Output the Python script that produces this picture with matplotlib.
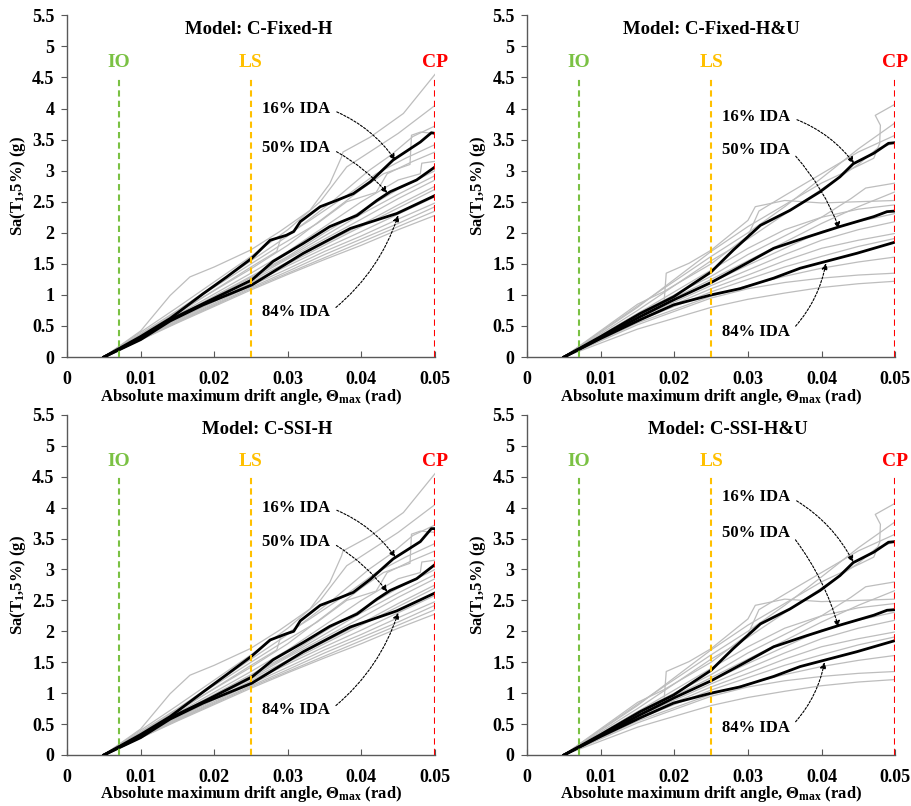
import matplotlib
matplotlib.use('Agg')
from matplotlib import pyplot as plt

plt.rcParams['font.family'] = ['Liberation Serif', 'DejaVu Serif']
plt.rcParams['font.weight'] = 'bold'
plt.rcParams['mathtext.default'] = 'regular'

# model titles
titles = ['Model: C-Fixed-H', 'Model: C-Fixed-H&U', 'Model: C-SSI-H', 'Model: C-SSI-H&U']

# limit states: drift angle, label, colour
ls_drift = [0.007, 0.025, 0.05]
ls_names = ['IO', 'LS', 'CP']
ls_colors = ['#7AC143', '#FFC000', '#FF0000']

# individual IDA curves, H models (x = drift angle, y = Sa)
gray_H = [
    [(0.005, 0), (0.010, 0.42), (0.014, 0.99), (0.0167, 1.29), (0.020, 1.45), (0.0249, 1.72), (0.0289, 2.02),
     (0.033, 2.36), (0.0357, 2.79), (0.0373, 3.22), (0.0375, 3.3), (0.0412, 3.54), (0.0457, 3.92), (0.050, 4.55)],
    [(0.005, 0), (0.015, 0.8), (0.025, 1.62), (0.030, 2.05), (0.0344, 2.5), (0.038, 3.06), (0.045, 3.6), (0.050, 4.05)],
    [(0.005, 0), (0.015, 0.75), (0.025, 1.55), (0.030, 1.95), (0.036, 2.5), (0.041, 3.0), (0.044, 3.25), (0.047, 3.55), (0.050, 3.72)],
    [(0.005, 0), (0.015, 0.72), (0.025, 1.42), (0.030, 1.8), (0.035, 2.25), (0.040, 2.7), (0.043, 2.95), (0.0466, 3.1),
     (0.0468, 3.57), (0.048, 3.62), (0.050, 3.6)],
    [(0.005, 0), (0.015, 0.7), (0.025, 1.45), (0.0285, 1.7), (0.029, 1.9), (0.033, 2.2), (0.038, 2.6), (0.042, 2.95), (0.046, 3.2), (0.050, 3.42)],
    [(0.005, 0), (0.015, 0.68), (0.025, 1.35), (0.030, 1.7), (0.035, 2.1), (0.040, 2.5), (0.045, 2.85), (0.048, 2.95), (0.0482, 3.12), (0.050, 3.15)],
    [(0.005, 0), (0.015, 0.66), (0.025, 1.3), (0.030, 1.62), (0.035, 2.0), (0.040, 2.35), (0.045, 2.7), (0.050, 3.0)],
    [(0.005, 0), (0.015, 0.65), (0.025, 1.28), (0.030, 1.6), (0.035, 1.95), (0.040, 2.3), (0.045, 2.62), (0.050, 2.92)],
    [(0.005, 0), (0.015, 0.63), (0.025, 1.25), (0.030, 1.58), (0.035, 1.9), (0.040, 2.22), (0.045, 2.55), (0.050, 2.85)],
    [(0.005, 0), (0.015, 0.62), (0.025, 1.23), (0.030, 1.53), (0.035, 1.83), (0.040, 2.13), (0.045, 2.45), (0.050, 2.75)],
    [(0.005, 0), (0.015, 0.6), (0.025, 1.2), (0.030, 1.5), (0.035, 1.8), (0.040, 2.1), (0.045, 2.4), (0.050, 2.7)],
    [(0.005, 0), (0.015, 0.6), (0.025, 1.18), (0.030, 1.47), (0.035, 1.75), (0.040, 2.02), (0.045, 2.3), (0.050, 2.58)],
    [(0.005, 0), (0.015, 0.58), (0.025, 1.15), (0.030, 1.42), (0.035, 1.7), (0.040, 1.95), (0.045, 2.22), (0.050, 2.48)],
    [(0.005, 0), (0.015, 0.57), (0.025, 1.12), (0.030, 1.38), (0.035, 1.65), (0.040, 1.9), (0.045, 2.15), (0.050, 2.42)],
    [(0.005, 0), (0.015, 0.56), (0.025, 1.1), (0.030, 1.35), (0.035, 1.6), (0.040, 1.85), (0.045, 2.1), (0.050, 2.35)],
    [(0.005, 0), (0.015, 0.55), (0.025, 1.08), (0.030, 1.33), (0.035, 1.57), (0.040, 1.8), (0.045, 2.05), (0.050, 2.28)],
    [(0.005, 0), (0.012, 0.5), (0.019, 1.05), (0.025, 1.5), (0.029, 1.8), (0.034, 2.15), (0.038, 2.5), (0.042, 2.65),
     (0.0435, 2.95), (0.047, 3.15), (0.050, 3.3)],
]

# individual IDA curves, H&U models
gray_HU = [
    [(0.005, 0), (0.015, 0.8), (0.025, 1.7), (0.030, 2.1), (0.035, 2.45), (0.040, 2.8), (0.0452, 3.09), (0.0471, 3.2),
     (0.0479, 3.44), (0.048, 3.73), (0.0473, 3.89), (0.0497, 4.05), (0.050, 4.07)],
    [(0.005, 0), (0.015, 0.82), (0.025, 1.62), (0.030, 2.0), (0.035, 2.42), (0.040, 2.88), (0.045, 3.35), (0.050, 3.77)],
    [(0.005, 0), (0.015, 0.85), (0.0185, 1.05), (0.025, 1.5), (0.030, 1.95), (0.0315, 2.35), (0.035, 2.6), (0.040, 2.95), (0.045, 3.3), (0.050, 3.57)],
    [(0.005, 0), (0.015, 0.75), (0.025, 1.55), (0.030, 1.9), (0.035, 2.3), (0.040, 2.7), (0.045, 3.1), (0.0475, 3.35), (0.050, 3.45)],
    [(0.005, 0), (0.0186, 0.87), (0.0189, 1.35), (0.022, 1.51), (0.025, 1.72), (0.030, 2.2), (0.031, 2.42), (0.035, 2.52),
     (0.040, 2.48), (0.045, 2.5), (0.050, 2.52)],
    [(0.005, 0), (0.015, 0.7), (0.025, 1.3), (0.030, 1.65), (0.035, 1.95), (0.040, 2.25), (0.044, 2.55), (0.046, 2.72), (0.050, 2.8)],
    [(0.005, 0), (0.015, 0.66), (0.025, 1.25), (0.030, 1.55), (0.035, 1.85), (0.040, 2.15), (0.045, 2.42), (0.050, 2.66)],
    [(0.005, 0), (0.015, 0.7), (0.025, 1.4), (0.030, 1.75), (0.035, 2.05), (0.040, 2.25), (0.045, 2.38), (0.050, 2.45)],
    [(0.005, 0), (0.015, 0.64), (0.025, 1.2), (0.030, 1.48), (0.035, 1.75), (0.040, 2.02), (0.045, 2.18), (0.050, 2.31)],
    [(0.005, 0), (0.015, 0.62), (0.025, 1.15), (0.030, 1.4), (0.035, 1.65), (0.040, 1.88), (0.045, 2.05), (0.050, 2.18)],
    [(0.005, 0), (0.015, 0.6), (0.025, 1.1), (0.030, 1.32), (0.035, 1.55), (0.040, 1.75), (0.045, 1.88), (0.050, 1.99)],
    [(0.005, 0), (0.015, 0.58), (0.025, 1.05), (0.030, 1.25), (0.035, 1.45), (0.040, 1.62), (0.045, 1.78), (0.050, 1.91)],
    [(0.005, 0), (0.015, 0.55), (0.025, 0.98), (0.030, 1.15), (0.035, 1.3), (0.040, 1.43), (0.045, 1.53), (0.050, 1.61)],
    [(0.005, 0), (0.015, 0.52), (0.025, 0.95), (0.030, 1.1), (0.035, 1.2), (0.040, 1.27), (0.045, 1.32), (0.050, 1.35)],
    [(0.005, 0), (0.015, 0.45), (0.025, 0.8), (0.030, 0.93), (0.035, 1.03), (0.040, 1.12), (0.045, 1.18), (0.050, 1.22)],
]

# percentile IDA curves (16%, 50%, 84%)
p16_fixed_H = [(0.005, 0), (0.010, 0.33), (0.014, 0.62), (0.0185, 1.02), (0.0217, 1.29), (0.0251, 1.59), (0.0276, 1.88),
               (0.0298, 1.96), (0.0308, 2.02), (0.0317, 2.18), (0.0344, 2.42), (0.0366, 2.52), (0.0389, 2.63),
               (0.0412, 2.82), (0.0443, 3.17), (0.048, 3.46), (0.0495, 3.61), (0.050, 3.60)]
p50_fixed_H = [(0.005, 0), (0.010, 0.3), (0.014, 0.6), (0.0185, 0.86), (0.0251, 1.24), (0.028, 1.54), (0.0321, 1.83),
               (0.0357, 2.1), (0.0394, 2.28), (0.0421, 2.52), (0.0439, 2.66), (0.0475, 2.85), (0.050, 3.06)]
p84_fixed_H = [(0.005, 0), (0.010, 0.28), (0.014, 0.58), (0.0185, 0.84), (0.0251, 1.16), (0.0321, 1.67), (0.0385, 2.07),
               (0.0448, 2.31), (0.050, 2.60)]

p16_fixed_HU = [(0.005, 0), (0.010, 0.33), (0.01535, 0.70), (0.0199, 0.97), (0.025, 1.37), (0.028, 1.72), (0.0317, 2.12),
                (0.0357, 2.36), (0.0398, 2.66), (0.0425, 2.9), (0.0443, 3.11), (0.0471, 3.28), (0.0491, 3.44), (0.050, 3.45)]
p50_fixed_HU = [(0.005, 0), (0.010, 0.31), (0.01535, 0.65), (0.0199, 0.92), (0.025, 1.2), (0.0289, 1.45), (0.0335, 1.75),
                (0.038, 1.93), (0.0425, 2.1), (0.0471, 2.26), (0.0489, 2.34), (0.050, 2.35)]
p84_fixed_HU = [(0.005, 0), (0.010, 0.3), (0.01535, 0.6), (0.0199, 0.84), (0.025, 1.0), (0.0289, 1.1), (0.0335, 1.27),
                (0.0371, 1.43), (0.0403, 1.53), (0.0448, 1.67), (0.050, 1.85)]

p16_ssi_H = [(0.005, 0), (0.010, 0.33), (0.014, 0.62), (0.0185, 1.02), (0.0217, 1.3), (0.0251, 1.6), (0.0276, 1.86),
             (0.0298, 1.96), (0.0308, 2.0), (0.0317, 2.17), (0.0344, 2.42), (0.0366, 2.52), (0.0389, 2.63),
             (0.0412, 2.84), (0.0443, 3.17), (0.048, 3.45), (0.0495, 3.66), (0.050, 3.66)]
p50_ssi_H = [(0.005, 0), (0.010, 0.3), (0.014, 0.6), (0.0185, 0.86), (0.0251, 1.26), (0.028, 1.54), (0.0321, 1.82),
             (0.0357, 2.08), (0.0394, 2.28), (0.0421, 2.52), (0.0439, 2.66), (0.0475, 2.85), (0.050, 3.08)]
p84_ssi_H = [(0.005, 0), (0.010, 0.28), (0.014, 0.58), (0.0185, 0.84), (0.0251, 1.16), (0.0321, 1.67), (0.0385, 2.07),
             (0.0448, 2.33), (0.050, 2.62)]

p16_ssi_HU = p16_fixed_HU
p50_ssi_HU = p50_fixed_HU
p84_ssi_HU = p84_fixed_HU

panels = [
    (titles[0], gray_H, [p16_fixed_H, p50_fixed_H, p84_fixed_H]),
    (titles[1], gray_HU, [p16_fixed_HU, p50_fixed_HU, p84_fixed_HU]),
    (titles[2], gray_H, [p16_ssi_H, p50_ssi_H, p84_ssi_H]),
    (titles[3], gray_HU, [p16_ssi_HU, p50_ssi_HU, p84_ssi_HU]),
]

# layout of the four axes in figure fractions
axes_pos = [
    [0.0735, 0.557, 0.4035, 0.424],
    [0.578, 0.557, 0.4035, 0.424],
    [0.0735, 0.0633, 0.4035, 0.422],
    [0.578, 0.0633, 0.4035, 0.422],
]
title_x = [0.026, 0.0251, 0.0272, 0.0273]

# annotation: label, text y, arrow target (x, y) per panel
ann_labels = ['16% IDA', '50% IDA', '84% IDA']
ann_text_y = [[3.99, 3.36, 0.72], [3.86, 3.33, 0.40], [4.0, 3.45, 0.72], [4.17, 3.59, 0.44]]
ann_target = [
    [(0.0446, 3.17), (0.0435, 2.64), (0.045, 2.28)],
    [(0.0444, 3.12), (0.0424, 2.07), (0.0406, 1.51)],
    [(0.0446, 3.2), (0.0435, 2.64), (0.045, 2.3)],
    [(0.0443, 3.12), (0.0423, 2.07), (0.0404, 1.50)],
]
ann_rad = [-0.15, -0.1, 0.15]

fig = plt.figure(figsize=(9.12, 8.06), dpi=100)

for i, (title, grays, pcts) in enumerate(panels):
    ax = fig.add_axes(axes_pos[i])
    for c in grays:
        ax.plot([p[0] for p in c], [p[1] for p in c], color='#BDBDBD', lw=0.9, zorder=2)
    for c in pcts:
        ax.plot([p[0] for p in c], [p[1] for p in c], color='black', lw=2.0, zorder=3)

    for d, n, col in zip(ls_drift, ls_names, ls_colors):
        ax.plot([d, d], [0, 4.53], color=col, lw=1.5, ls=(0, (3, 2)), zorder=4)
        ax.text(d, 4.74, n, color=col, fontsize=14, fontweight='bold', ha='center', va='center')

    ax.text(title_x[i], 5.27, title, fontsize=13.5, fontweight='bold', ha='center', va='center')

    for j in range(3):
        ax.annotate(ann_labels[j], xy=ann_target[i][j], xytext=(0.0265, ann_text_y[i][j]),
                    fontsize=12, fontweight='bold', ha='left', va='center',
                    arrowprops=dict(arrowstyle='-|>', color='black', lw=0.8, ls=(0, (2, 1.5)),
                                    relpos=(1, 0.5), shrinkA=3, shrinkB=0,
                                    mutation_scale=9,
                                    connectionstyle='arc3,rad=%s' % ann_rad[j]),
                    zorder=5)

    ax.set_xlim(0, 0.05)
    ax.set_ylim(0, 5.5)
    ax.set_xticks([0, 0.01, 0.02, 0.03, 0.04, 0.05])
    ax.set_xticklabels(['0', '0.01', '0.02', '0.03', '0.04', '0.05'])
    ax.set_yticks([0, 0.5, 1, 1.5, 2, 2.5, 3, 3.5, 4, 4.5, 5, 5.5])
    ax.set_yticklabels(['0', '0.5', '1', '1.5', '2', '2.5', '3', '3.5', '4', '4.5', '5', '5.5'])
    ax.tick_params(axis='x', direction='in', length=4, pad=10, labelsize=13, color='#595959')
    ax.tick_params(axis='y', direction='out', length=4, pad=5, labelsize=13, color='#595959')
    for lab in ax.get_xticklabels() + ax.get_yticklabels():
        lab.set_fontweight('bold')
    for s in ['top', 'right']:
        ax.spines[s].set_visible(False)
    for s in ['left', 'bottom']:
        ax.spines[s].set_color('#595959')
        ax.spines[s].set_linewidth(1.0)
    ax.set_xlabel('Absolute maximum drift angle, \u0398$_{max}$ (rad)', fontsize=12, fontweight='bold', labelpad=-1)
    ax.set_ylabel('Sa(T$_1$,5%) (g)', fontsize=12, fontweight='bold', labelpad=3)

fig.savefig('out.png', dpi=100)
